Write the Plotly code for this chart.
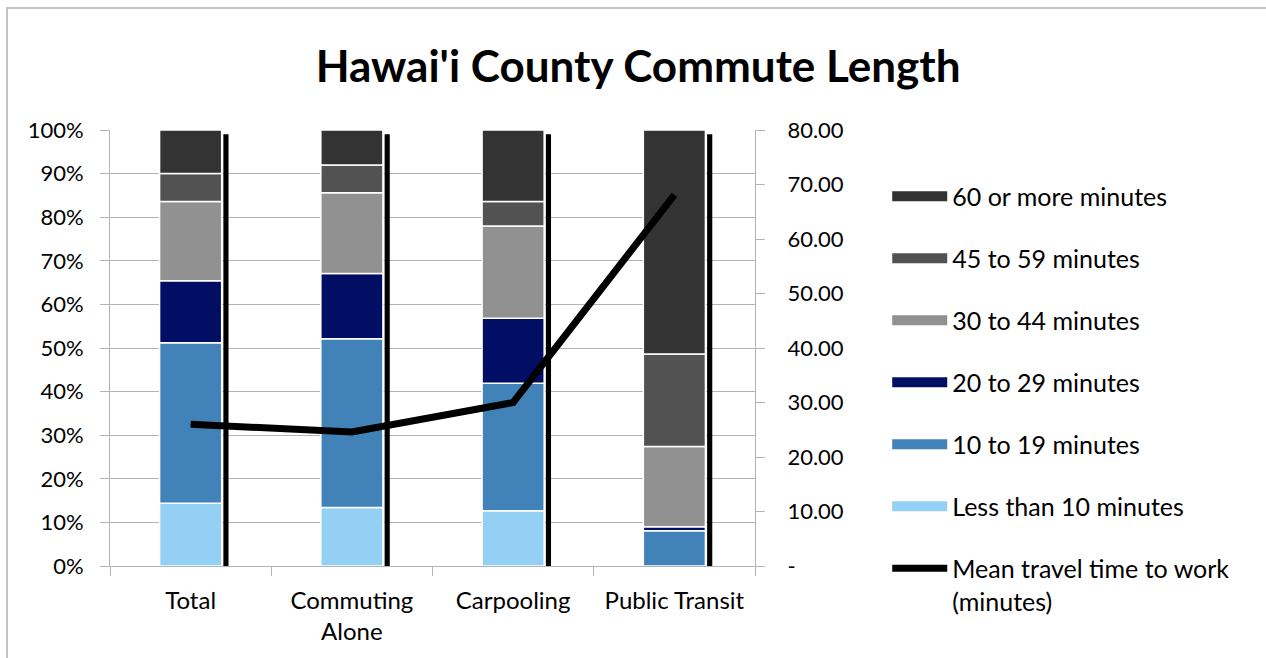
import plotly.graph_objects as go

# Commute mode categories
categories = ["Total", "Commuting<br>Alone", "Carpooling", "Public Transit"]

# Share of workers by travel time (percent of each mode)
less_than_10 = [14.4, 13.4, 12.7, 0.0]
min_10_19 = [36.8, 38.7, 29.2, 8.1]
min_20_29 = [14.2, 15.0, 14.9, 0.9]
min_30_44 = [18.2, 18.5, 21.2, 18.4]
min_45_59 = [6.4, 6.4, 5.6, 21.2]
min_60_plus = [10.0, 8.0, 16.4, 51.4]

# Mean travel time to work (minutes), right axis
mean_travel_time = [26.0, 24.6, 30.0, 68.1]

# Axis tick labels
pct_tick_vals = [0, 10, 20, 30, 40, 50, 60, 70, 80, 90, 100]
pct_tick_text = ["0%", "10%", "20%", "30%", "40%", "50%", "60%", "70%", "80%", "90%", "100%"]
min_tick_vals = [0, 10, 20, 30, 40, 50, 60, 70, 80]
min_tick_text = ["-", "10.00", "20.00", "30.00", "40.00", "50.00", "60.00", "70.00", "80.00"]

series = [
    ("Less than 10 minutes", less_than_10, "#94cff4"),
    ("10 to 19 minutes", min_10_19, "#4182b8"),
    ("20 to 29 minutes", min_20_29, "#020e64"),
    ("30 to 44 minutes", min_30_44, "#919191"),
    ("45 to 59 minutes", min_45_59, "#525252"),
    ("60 or more minutes", min_60_plus, "#333333"),
]

FONT = "Lato, 'Open Sans', sans-serif"
BAR_W = 0.385

fig = go.Figure()

# Drop-shadow strip on the right side of every stacked column
totals = [sum(vals) for vals in zip(*[s[1] for s in series])]
fig.add_trace(go.Bar(
    x=categories, y=[t * 0.99 for t in totals], base=0,
    width=0.032, offset=0.203,
    marker=dict(color="#000000", line=dict(width=0)),
    showlegend=False, hoverinfo="skip",
))

# Stacked segments, bases accumulated from the series below
base = [0.0] * len(categories)
n = len(series)
for i, (name, vals, color) in enumerate(series):
    fig.add_trace(go.Bar(
        x=categories, y=vals, base=list(base), width=BAR_W,
        marker=dict(color=color, line=dict(color="#ffffff", width=1.5)),
        name=name, showlegend=False,
    ))
    # legend entry drawn as a wide swatch
    fig.add_trace(go.Scatter(
        x=[None], y=[None], mode="lines", name=name,
        line=dict(color=color, width=12),
        legendgroup=name, legendrank=n - i,
    ))
    base = [b + v for b, v in zip(base, vals)]

fig.add_trace(go.Scatter(
    x=categories, y=mean_travel_time, yaxis="y2", mode="lines",
    line=dict(color="#000000", width=7),
    name="Mean travel time to work<br>(minutes)",
    legendgroup="mean", legendrank=n + 1,
))

fig.update_layout(
    width=1266, height=658,
    margin=dict(l=110, r=511, t=130, b=92),
    paper_bgcolor="#ffffff", plot_bgcolor="#ffffff",
    barmode="overlay",
    font=dict(family=FONT, size=22, color="#000000"),
    title=dict(
        text="<b>Hawai'i County Commute Length</b>",
        x=0.504, xref="container", y=1 - 67 / 658, yref="container",
        xanchor="center", yanchor="middle",
        font=dict(family=FONT, size=44, color="#000000"),
    ),
    xaxis=dict(
        type="category", range=[-0.5, 3.5],
        showline=True, linecolor="#b3b3b3", linewidth=1,
        ticks="outside", tickson="boundaries", ticklen=9, tickcolor="#b3b3b3",
        showgrid=False, ticklabelstandoff=13,
        tickfont=dict(size=24),
    ),
    yaxis=dict(
        range=[0, 100], tickvals=pct_tick_vals, ticktext=pct_tick_text,
        showline=True, linecolor="#b3b3b3", linewidth=1,
        ticks="outside", ticklen=9, tickcolor="#b3b3b3",
        showgrid=True, gridcolor="#b3b3b3", gridwidth=1,
        zeroline=False, ticklabelstandoff=12,
        tickfont=dict(size=22),
    ),
    yaxis2=dict(
        overlaying="y", side="right", range=[0, 80],
        tickvals=min_tick_vals, ticktext=min_tick_text,
        showline=True, linecolor="#b3b3b3", linewidth=1,
        ticks="outside", ticklen=9, tickcolor="#b3b3b3",
        showgrid=False, zeroline=False, ticklabelstandoff=18,
        tickfont=dict(size=22),
    ),
    legend=dict(
        x=1.205, xanchor="left", y=0.9, yanchor="top",
        font=dict(family=FONT, size=25), tracegroupgap=26.5,
        itemwidth=55, bgcolor="rgba(0,0,0,0)",
        traceorder="grouped", valign="top", maxheight=640,
    ),
    shapes=[dict(
        type="rect", xref="paper", yref="paper",
        x0=(7 - 110) / 645, x1=(1275 - 110) / 645,
        y0=(566 - 680) / 436, y1=(566 - 8) / 436,
        line=dict(color="#c4c4c4", width=2), fillcolor="rgba(0,0,0,0)",
        layer="below",
    )],
)

fig.write_html("out.html")
